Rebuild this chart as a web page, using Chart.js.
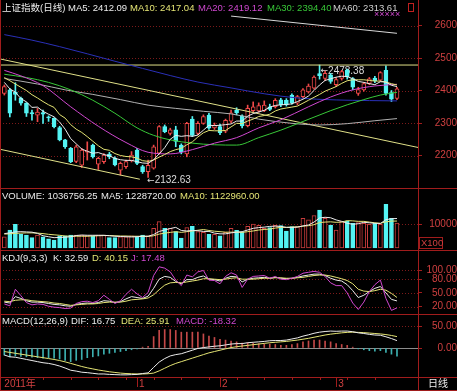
<!DOCTYPE html>
<html>
<head>
<meta charset="utf-8">
<title>上证指数(日线)</title>
<script src="https://cdn.jsdelivr.net/npm/chart.js@4.4.1/dist/chart.umd.min.js"></script>
<style>
  html, body { margin: 0; padding: 0; background: #000; }
  #wrap { position: relative; width: 457px; height: 391px; background: #000; overflow: hidden; }
  #wrap canvas { position: absolute; left: 0; }
</style>
</head>
<body>
<div id="wrap">
  <canvas id="main" width="457" height="188" style="top:0"></canvas>
  <canvas id="vol" width="457" height="62" style="top:188px"></canvas>
  <canvas id="kdj" width="457" height="64" style="top:250px"></canvas>
  <canvas id="macd" width="457" height="77" style="top:314px"></canvas>
</div>
<script>
// daily bars, index 0 = 2011-11-29 ... 71 = 2012-03-16
const opens  = [2391,2402,2395,2376,2361,2332,2324,2332,2318,2314,2286,2248,2222,2182,2170,2210,2232,2173,2181,2204,2192,2155,2166,2184,2217,2166,2150,2161,2207,2289,2268,2279,2232,2205,2312,2268,2299,2324,2285,2289,2275,2306,2340,2322,2292,2338,2337,2338,2350,2350,2371,2370,2386,2361,2381,2396,2407,2452,2437,2448,2418,2437,2462,2437,2391,2402,2422,2438,2432,2462,2394,2376];
const highs  = [2417,2407,2424,2380,2363,2340,2345,2340,2322,2316,2290,2250,2225,2232,2222,2242,2235,2195,2206,2210,2196,2180,2186,2212,2222,2170,2186,2232,2292,2294,2284,2290,2236,2302,2320,2304,2325,2330,2300,2297,2312,2340,2347,2325,2355,2365,2362,2368,2358,2375,2376,2375,2390,2385,2406,2420,2445,2478.38,2460,2452,2440,2462,2466,2440,2410,2425,2440,2444,2458,2476,2400,2410];
const lows   = [2386,2319,2370,2355,2320,2309,2304,2299,2305,2285,2245,2222,2178,2178,2163,2186,2192,2157,2176,2190,2168,2140,2160,2180,2172,2145,2132.63,2158,2204,2270,2263,2227,2205,2196,2258,2263,2296,2280,2280,2264,2270,2300,2325,2285,2288,2333,2333,2335,2338,2346,2350,2352,2358,2356,2378,2392,2404,2435,2430,2422,2412,2432,2435,2402,2385,2398,2418,2424,2428,2386,2366,2372];
const closes = [2412,2330,2388,2361,2330,2328,2334,2327,2316,2289,2248,2227,2181,2227,2217,2212,2196,2191,2201,2196,2171,2176,2181,2201,2176,2150,2170,2227,2289,2273,2279,2243,2212,2299,2262,2299,2320,2284,2293,2270,2308,2331,2331,2291,2345,2350,2354,2355,2342,2370,2356,2356,2362,2381,2402,2414,2441,2446,2453,2428,2434,2458,2442,2410,2403,2421,2436,2430,2455,2391,2373,2405];

const ma5  = [2425,2405,2395,2375,2365,2348,2349,2336,2327,2319,2303,2281,2252,2236,2220,2213,2207,2209,2203,2199,2191,2187,2185,2185,2181,2177,2176,2187,2205,2224,2250,2262,2259,2261,2259,2263,2278,2293,2292,2293,2295,2297,2306,2306,2321,2329,2334,2339,2349,2354,2356,2357,2359,2366,2373,2383,2400,2417,2431,2436,2441,2444,2443,2436,2428,2425,2421,2418,2427,2426,2416,2412.09];
const ma10 = [2440,2430,2420,2410,2400,2387,2377,2366,2356,2348,2326,2315,2295,2281,2271,2258,2244,2230,2219,2216,2206,2200,2197,2196,2192,2184,2182,2186,2195,2203,2212,2218,2222,2233,2242,2257,2270,2277,2276,2276,2277,2288,2299,2298,2306,2312,2320,2323,2327,2337,2343,2346,2349,2352,2361,2370,2379,2388,2398,2405,2412,2422,2430,2433,2433,2433,2431,2429,2429,2426,2421,2417.04];
const ma20Idx = [0,3,7,12,17,22,26,30,34,38,42,46,50,55,59,63,67,71];
const ma20    = [2462,2445,2415,2350,2290,2240,2210,2205,2218,2238,2255,2285,2310,2350,2380,2402,2414,2419.12];
const ma30Idx = [0,4,8,12,16,20,24,27,30,34,38,42,46,50,53,56,59,62,65,68,71];
const ma30    = [2450,2440,2425,2402,2370,2330,2285,2262,2248,2238,2233,2232,2255,2278,2298,2318,2338,2356,2372,2386,2394.40];
const ma60Idx = [0,6,11,16,21,26,31,36,41,46,52,57,62,67,71];
const ma60    = [2437,2420,2402,2388,2372,2355,2345,2336,2328,2312,2299,2294,2298,2307,2313.61];
const longIdx = [0,5,10,15,20,25,30,35,41,47,53,60,66,71];
const longMa  = [2572,2555,2535,2513,2490,2468,2446,2426,2408,2390,2377,2371,2369,2368];

// lines drawn by hand on the price panel (index, price at both ends)
const chanTopIdx = [-1, 75],   chanTopVal = [2498, 2224];
const chanLowIdx = [-1, 24.5], chanLowVal = [2220, 2127];
const upperIdx   = [41, 71],   upperVal   = [2629, 2576];

// volume, x100
const volume = [4700,7500,9900,5700,5400,4300,5400,4700,3800,3300,5100,5100,5400,5400,5400,5100,5100,5400,5400,4300,4300,4700,4700,5100,4700,5400,5100,8200,11000,8200,8200,6800,4100,8500,9000,6800,6500,5700,5700,5100,6500,8200,7400,6500,9000,10000,9400,8200,8500,9400,9300,7100,8900,8900,12400,11700,13500,15800,12400,9600,7500,11000,11200,10300,10600,10300,9900,10300,9900,18200,12400,10367.5625];
const volMa5  = [6000,6300,6700,6800,6700,6600,6100,5100,4700,4300,4400,4500,4700,5200,5400,5300,5300,5300,5300,5100,4900,4800,4700,4600,4700,4900,4900,5600,6900,7500,8100,8600,7300,7100,7300,7200,6900,6900,6200,5900,5900,6300,6600,6800,7500,8200,8500,8700,9000,9100,9000,8600,8600,8700,9200,9600,10800,12500,12800,12600,11700,11100,10300,9900,10100,10700,10500,10300,10200,11800,12200,12287.2];
const volMa10 = [5800,5900,6100,6200,6300,6300,6200,6000,5700,5500,5300,5000,4900,4900,4900,4900,5000,5100,5200,5200,5100,5000,5000,4900,4900,4900,4800,5100,5800,6200,6500,6800,6500,6800,7100,7400,7700,7300,7000,6800,6600,6600,6600,6500,6800,7100,7500,7700,7900,8300,8600,8600,8700,8800,9100,9300,9700,10600,10800,10900,10700,10800,11400,11300,11100,11100,10800,10500,10300,10900,11200,11229.6];

const kdjK = [30,28,42,38,33,30,30,29,27,25,24,22,21,25,27,28,27,29,33,32,29,31,37,42,40,38,43,60,80,86,84,75,70,79,79,84,87,80,79,76,82,86,85,74,80,82,83,84,82,84,82,81,82,84,87,89,91,91,88,82,78,76,68,55,40,45,53,60,64,50,36,32.59];
const kdjD = [32,31,34,35,35,33,32,31,30,28,27,25,23,24,25,26,26,27,29,30,30,30,32,35,36,37,39,46,57,67,72,73,72,74,76,78,81,81,80,79,80,82,83,80,80,80,81,82,82,83,83,82,82,83,84,86,88,89,89,87,84,81,77,70,58,54,53,55,58,56,49,40.15];
const kdjJ = [26,22,58,44,29,24,26,25,21,19,18,16,17,27,31,32,29,33,45,36,27,33,47,58,48,40,51,88,107,104,96,78,66,89,85,96,99,78,77,70,86,94,89,62,80,86,87,88,82,86,80,79,82,86,93,95,97,95,86,72,66,66,50,28,14,30,53,68,78,38,12,17.48];

const dif = [-16,-20,-21,-23.5,-26,-28.5,-31,-33.5,-35,-37.5,-41,-45.5,-50.5,-52.5,-55,-56,-57.5,-59,-59,-60,-60.5,-61,-61,-60.5,-60,-58,-56.5,-44,-32,-24,-18,-15,-13,-9,-5,-1,1,2.5,4,5,7,9,10,10,12,13,14,15,16.5,17,17,18,20.5,23,27,30,33.5,36,37.5,38.5,38,38.5,38.5,37,34.5,33,31,29.5,29,25.5,21.5,16.75];
const dea = [-8,-10,-12,-14,-16,-18,-20,-22,-24,-26,-28.5,-31.5,-35,-38.5,-42,-45,-47.5,-50,-52,-54,-55.5,-57,-58,-58.5,-59,-59,-58.5,-57,-52,-46,-40,-35,-31,-27,-23,-19,-15,-11,-8,-5,-2,1,3,4.5,6,7.5,9,10.5,12,13,14,15,16.5,18,20,22,24.5,27,29.5,31.5,33,34.5,35.5,36,35.5,35,34,33,32,30.5,28.5,25.91];
const macdBar = [-16,-20,-18,-19,-20,-21,-22,-23,-22,-23,-25,-28,-31,-28,-26,-22,-20,-18,-14,-12,-10,-8,-6,-4,-2,2,4,26,40,42,42,40,36,36,36,36,32,27,24,20,18,16,14,11,12,11,10,9,9,8,6,6,8,10,14,16,18,18,16,14,10,8,6,2,-2,-4,-6,-7,-6,-10,-14,-18.32];

const priceTicks = [2200, 2300, 2400, 2500, 2600];
const volTicks   = [10000];
const kdjTicks   = [100, 80, 50, 20];
const macdTicks  = [50, 0];
const dateIdx    = [0, 24, 39, 60];
const dateLabels = ['2011年', '1', '2', '3'];

const FONT = "'Liberation Sans', 'Noto Sans CJK SC', Arial, sans-serif";
const ARROW_FONT = "'DejaVu Sans', 'Liberation Sans', sans-serif";
Chart.defaults.font.family = FONT;
Chart.defaults.font.size = 10;
Chart.defaults.animation = false;
Chart.defaults.plugins.legend.display = false;
Chart.defaults.plugins.tooltip.enabled = false;

const RED = '#ee4848', VOLRED = '#c83c3c', CYAN = '#54f4f4', WHITE = '#ececec', YELLOW = '#e4e474',
      MAGENTA = '#d048d0', GREEN = '#38c838', GREY = '#b0b0b0', BLUE = '#2a30b8', TREND = '#e0e088',
      FRAME = '#a01c1c', GRID = '#7c1a1a', AXIS_TXT = '#d04040';
const X_MIN = -0.78, X_MAX = 74.8;

const up = closes.map((c, i) => c >= opens[i]);
const seq = arr => arr.map((v, i) => ({x: i, y: v}));
const pairs = (idx, val) => val.map((v, k) => ({x: idx[k], y: v}));
const last = arr => arr[arr.length - 1];
const hiVal = Math.max(...highs), hiAt = highs.indexOf(hiVal);
const loVal = Math.min(...lows), loAt = lows.indexOf(loVal);

function lineDs(data, color, smooth) {
  return {type: 'line', data, borderColor: color, borderWidth: 1, pointRadius: 0, fill: false, order: 0,
          tension: smooth ? 0.4 : 0, cubicInterpolationMode: smooth ? 'monotone' : 'default'};
}

function xAxis() {
  return {type: 'linear', min: X_MIN, max: X_MAX, display: false, offset: false};
}

function yAxis(min, max, ticks, fmt, pad) {
  return {
    type: 'linear', position: 'right', min, max, beginAtZero: false,
    afterBuildTicks: s => { s.ticks = ticks.map(v => ({value: v})); },
    afterFit: s => { s.width = 39; s.paddingTop = 0; s.paddingBottom = 0; },
    grid: {display: true, drawOnChartArea: false, drawTicks: true, tickLength: 4, color: FRAME},
    border: {display: false},
    ticks: {color: AXIS_TXT, padding: pad, crossAlign: 'far', autoSkip: false, font: {size: 10}, callback: v => fmt(v)}
  };
}

// grid lines, panel frame and the text row of each panel
function deco(cfg) {
  return {
    id: 'deco',
    beforeDatasetsDraw(chart) {
      const {ctx, chartArea: a} = chart, y = chart.scales.y;
      ctx.save();
      ctx.strokeStyle = GRID; ctx.lineWidth = 1; ctx.setLineDash([1, 2]);
      (cfg.dotted || []).forEach(v => {
        const py = Math.round(y.getPixelForValue(v)) + 0.5;
        ctx.beginPath(); ctx.moveTo(a.left, py); ctx.lineTo(a.right, py); ctx.stroke();
      });
      ctx.setLineDash([]);
      if (cfg.zero !== undefined) {
        const py = Math.round(y.getPixelForValue(cfg.zero)) + 0.5;
        ctx.strokeStyle = '#8c8c8c';
        ctx.beginPath(); ctx.moveTo(a.left, py); ctx.lineTo(a.right, py); ctx.stroke();
      }
      if (cfg.under) cfg.under(chart, ctx);
      ctx.restore();
    },
    afterDraw(chart) {
      const {ctx, chartArea: a} = chart;
      ctx.save();
      ctx.strokeStyle = FRAME; ctx.lineWidth = 1;
      ctx.beginPath();
      ctx.moveTo(a.right + 0.5, 0); ctx.lineTo(a.right + 0.5, chart.height);
      ctx.moveTo(0.5, 0); ctx.lineTo(0.5, chart.height);
      if (cfg.topLine) { ctx.moveTo(0, 0.5); ctx.lineTo(chart.width, 0.5); }
      ctx.stroke();
      ctx.font = '9.5px ' + FONT; ctx.textBaseline = 'middle'; ctx.textAlign = 'left';
      cfg.title.forEach(([txt, col, x]) => { ctx.fillStyle = col; ctx.fillText(txt, x, cfg.titleY); });
      if (cfg.extra) cfg.extra(chart, ctx);
      ctx.restore();
    }
  };
}

function baseOptions(y, padding) {
  return {responsive: false, devicePixelRatio: 1, layout: {padding: padding || 0},
          scales: {x: xAxis(), y: y}};
}

// label "←value" next to a candle; the arrow comes from a font that has it
function arrowLabel(ctx, x, y, value) {
  ctx.font = '9px ' + ARROW_FONT;
  ctx.fillText('←', x, y);
  const w = ctx.measureText('←').width;
  ctx.font = '10px ' + FONT;
  ctx.fillText(value.toFixed(2), x + w, y);
}

// price panel
new Chart(document.getElementById('main'), {
  type: 'bar',
  data: {datasets: [
    lineDs(seq(ma5), WHITE),
    lineDs(seq(ma10), YELLOW),
    lineDs(pairs(ma20Idx, ma20), MAGENTA, true),
    lineDs(pairs(ma30Idx, ma30), GREEN, true),
    lineDs(pairs(ma60Idx, ma60), GREY, true),
    lineDs(pairs(longIdx, longMa), BLUE, true),
    lineDs([{x: -1, y: hiVal}, {x: 75, y: hiVal}], TREND),
    lineDs(pairs(chanTopIdx, chanTopVal), TREND),
    lineDs(pairs(chanLowIdx, chanLowVal), TREND),
    lineDs(pairs(upperIdx, upperVal), '#d8d8d8'),
    {type: 'bar', order: 1, grouped: false, barThickness: 4, minBarLength: 1, borderWidth: 1, borderSkipped: false,
     data: opens.map((o, i) => ({x: i, y: [o, closes[i]]})),
     backgroundColor: up.map(u => u ? '#000' : CYAN), borderColor: up.map(u => u ? RED : CYAN)},
    {type: 'bar', order: 2, grouped: false, barThickness: 1, minBarLength: 1, borderWidth: 0,
     data: lows.map((l, i) => ({x: i, y: [l, highs[i]]})),
     backgroundColor: up.map(u => u ? RED : CYAN)}
  ]},
  options: baseOptions(yAxis(2100, 2678.5, priceTicks, v => String(v), 9)),
  plugins: [deco({
    dotted: priceTicks, titleY: 8,
    title: [['上证指数(日线)', WHITE, 2],
            ['MA5: ' + last(ma5).toFixed(2), WHITE, 68],
            ['MA10: ' + last(ma10).toFixed(2), YELLOW, 130],
            ['MA20: ' + last(ma20).toFixed(2), MAGENTA, 198],
            ['MA30: ' + last(ma30).toFixed(2), GREEN, 267],
            ['MA60: ' + last(ma60).toFixed(2), '#d0d0d0', 333]],
    under(chart, ctx) {
      const xs = chart.scales.x, ys = chart.scales.y;
      ctx.fillStyle = '#dcdcdc'; ctx.textBaseline = 'middle';
      arrowLabel(ctx, xs.getPixelForValue(loAt) - 1, ys.getPixelForValue(loVal) + 3, loVal);
      arrowLabel(ctx, xs.getPixelForValue(hiAt) + 1, ys.getPixelForValue(hiVal) + 6, hiVal);
    },
    extra(chart, ctx) {
      ctx.fillStyle = MAGENTA; ctx.font = '9px ' + FONT;
      ctx.fillText('×××××', 374, 15);
      ctx.strokeStyle = '#c02020';
      ctx.strokeRect(408.5, 3.5, 5, 8);
    }
  })]
});

// volume panel
new Chart(document.getElementById('vol'), {
  type: 'bar',
  data: {datasets: [
    lineDs(seq(volMa5), WHITE),
    lineDs(seq(volMa10), YELLOW),
    {type: 'bar', order: 1, grouped: false, barThickness: 4, borderWidth: 1, borderSkipped: false,
     data: seq(volume),
     backgroundColor: up.map(u => u ? '#000' : CYAN), borderColor: up.map(u => u ? VOLRED : CYAN)}
  ]},
  options: baseOptions(yAxis(-833, 25000, volTicks, v => String(v), 3)),
  plugins: [deco({
    dotted: volTicks, topLine: true, titleY: 8,
    title: [['VOLUME: ' + (last(volume) * 100).toFixed(2), WHITE, 2],
            ['MA5: ' + (last(volMa5) * 100).toFixed(2), WHITE, 101],
            ['MA10: ' + (last(volMa10) * 100).toFixed(2), YELLOW, 180]],
    extra(chart, ctx) {
      ctx.strokeStyle = FRAME;
      ctx.strokeRect(419.5, 49.5, 23, 11);
      ctx.fillStyle = AXIS_TXT; ctx.font = '9.5px ' + FONT;
      ctx.fillText('X100', 421, 55.5);
    }
  })]
});

// KDJ panel
new Chart(document.getElementById('kdj'), {
  type: 'line',
  data: {datasets: [lineDs(seq(kdjJ), MAGENTA), lineDs(seq(kdjD), YELLOW), lineDs(seq(kdjK), WHITE)]},
  options: baseOptions(yAxis(4.1, 143.6, kdjTicks, v => v.toFixed(2), 2)),
  plugins: [deco({
    dotted: kdjTicks, topLine: true, titleY: 8,
    title: [['KDJ(9,3,3)', WHITE, 2],
            ['K: ' + last(kdjK).toFixed(2), WHITE, 53],
            ['D: ' + last(kdjD).toFixed(2), YELLOW, 92],
            ['J: ' + last(kdjJ).toFixed(2), MAGENTA, 131]]
  })]
});

// MACD panel with the date row below it
new Chart(document.getElementById('macd'), {
  type: 'bar',
  data: {datasets: [
    lineDs(seq(dif), WHITE),
    lineDs(seq(dea), YELLOW),
    {type: 'bar', order: 1, grouped: false, barThickness: 1, borderWidth: 0,
     data: seq(macdBar), backgroundColor: macdBar.map(v => v >= 0 ? '#c44848' : '#3cb0b0')}
  ]},
  options: baseOptions(yAxis(-65.9, 77.3, macdTicks, v => v.toFixed(2), 6), {bottom: 14}),
  plugins: [deco({
    dotted: [50], zero: 0, topLine: true, titleY: 7,
    title: [['MACD(12,26,9)', WHITE, 2],
            ['DIF: ' + last(dif).toFixed(2), WHITE, 71],
            ['DEA: ' + last(dea).toFixed(2), YELLOW, 121],
            ['MACD: ' + last(macdBar).toFixed(2), MAGENTA, 176]],
    extra(chart, ctx) {
      const a = chart.chartArea, xs = chart.scales.x, b = a.bottom;
      ctx.strokeStyle = FRAME;
      ctx.beginPath();
      ctx.moveTo(0, b + 0.5); ctx.lineTo(chart.width, b + 0.5);
      ctx.moveTo(0, chart.height - 0.5); ctx.lineTo(chart.width, chart.height - 0.5);
      for (let i = 2; i < closes.length; i += 5) {
        const px = Math.round(xs.getPixelForValue(i)) + 0.5;
        ctx.moveTo(px, b); ctx.lineTo(px, b + 3);
      }
      dateIdx.forEach((d, k) => {
        if (k === 0) return;
        const px = Math.round(xs.getPixelForValue(d)) + 0.5;
        ctx.moveTo(px, b); ctx.lineTo(px, b + 10);
      });
      ctx.stroke();
      ctx.font = '10px ' + FONT; ctx.textBaseline = 'middle';
      ctx.fillStyle = AXIS_TXT;
      dateIdx.forEach((d, k) => {
        const px = xs.getPixelForValue(d);
        ctx.fillText(dateLabels[k], k === 0 ? px : px + 2, b + 7);
      });
      ctx.fillStyle = WHITE;
      ctx.fillText('日线', 428, b + 7);
    }
  })]
});
</script>
</body>
</html>
